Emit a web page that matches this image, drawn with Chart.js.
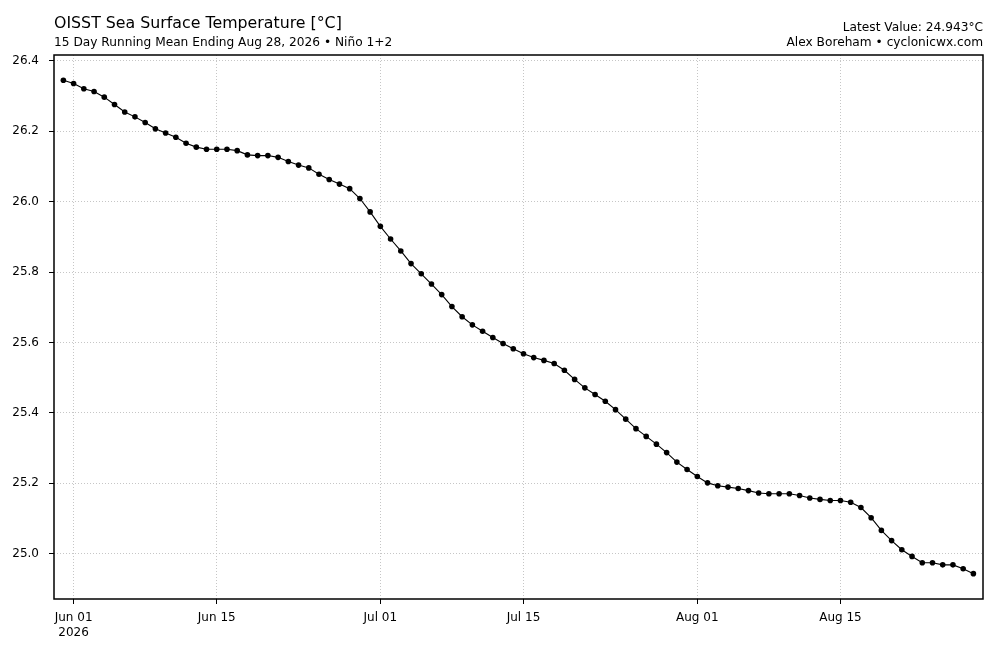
<!DOCTYPE html>
<html>
<head>
<meta charset="utf-8">
<script src="https://cdn.jsdelivr.net/npm/chart.js@4"></script>
<style>
  html, body { margin: 0; padding: 0; background: #fff; }
  #wrap { width: 1000px; height: 646px; position: relative; }
</style>
</head>
<body>
<div id="wrap"><canvas id="c"></canvas></div>
<script>
// day 0 = May 31, 2026
const startDate = '2026-05-31'
const sstValues = [
  26.345, 26.336, 26.321, 26.313, 26.297, 26.276, 26.255, 26.241, 26.225, 26.207,
  26.195, 26.183, 26.166, 26.155, 26.149, 26.149, 26.149, 26.145, 26.133, 26.131,
  26.131, 26.126, 26.114, 26.104, 26.096, 26.078, 26.063, 26.050, 26.037, 26.009,
  25.971,
  25.930, 25.894, 25.860, 25.824, 25.795, 25.766, 25.736, 25.702, 25.673, 25.650,
  25.632, 25.614, 25.597, 25.582, 25.568, 25.557, 25.549, 25.540, 25.521, 25.495,
  25.471, 25.452, 25.433, 25.409, 25.382, 25.355, 25.333, 25.311, 25.287, 25.260,
  25.239,
  25.219, 25.201, 25.193, 25.189, 25.185, 25.179, 25.172, 25.170, 25.170, 25.170,
  25.165, 25.158, 25.154, 25.151, 25.151, 25.146, 25.131, 25.102, 25.066, 25.037,
  25.011, 24.992, 24.974, 24.974, 24.968, 24.968, 24.957, 24.943
]
const xTickDays = [1, 15, 31, 45, 62, 76]
const xTickLabels = [['Jun 01', '2026'], 'Jun 15', 'Jul 01', 'Jul 15', 'Aug 01', 'Aug 15']
const yTicks = [25.0, 25.2, 25.4, 25.6, 25.8, 26.0, 26.2, 26.4]

const titleText = 'OISST Sea Surface Temperature [°C]'
const subtitleText = '15 Day Running Mean Ending Aug 28, 2026 • Niño 1+2'
const latestText = 'Latest Value: 24.943°C'
const creditText = 'Alex Boreham • cyclonicwx.com'

const FONT = 'DejaVu Sans'
Chart.defaults.font.family = FONT
Chart.defaults.color = '#000'

const points = sstValues.map((v, i) => ({ x: i, y: v }))

const frameAndText = {
  id: 'frameAndText',
  afterDraw(chart) {
    const { ctx, chartArea: a } = chart
    ctx.save()
    ctx.strokeStyle = '#000'
    ctx.lineWidth = 1.5
    ctx.strokeRect(a.left, a.top, a.right - a.left, a.bottom - a.top)
    ctx.fillStyle = '#000'
    ctx.textBaseline = 'alphabetic'
    ctx.textAlign = 'left'
    ctx.font = '15.8px "' + FONT + '"'
    ctx.fillText(titleText, 54, 28)
    ctx.font = '12.2px "' + FONT + '"'
    ctx.fillText(subtitleText, 54, 46)
    ctx.textAlign = 'right'
    ctx.fillText(latestText, 983, 30.5)
    ctx.fillText(creditText, 983, 46)
    ctx.restore()
  }
}

const gridOpts = {
  color: '#c0c0c0',
  lineWidth: 0.9,
  tickColor: '#000',
  tickLength: 5,
  tickWidth: 1,
  tickBorderDash: []
}

new Chart(document.getElementById('c'), {
  type: 'line',
  data: {
    datasets: [{
      data: points,
      borderColor: '#000',
      backgroundColor: '#000',
      borderWidth: 1.1,
      pointRadius: 2.8,
      pointHoverRadius: 2.8,
      pointBorderWidth: 0,
      tension: 0
    }]
  },
  options: {
    responsive: true,
    maintainAspectRatio: false,
    animation: false,
    layout: { padding: { top: 55, right: 17, left: 0, bottom: 0 } },
    plugins: { legend: { display: false }, tooltip: { enabled: false } },
    scales: {
      x: {
        type: 'linear',
        min: -0.917,
        max: 89.94,
        afterBuildTicks(scale) { scale.ticks = xTickDays.map(v => ({ value: v })) },
        afterFit(scale) { scale.height = 47 },
        ticks: {
          font: { size: 12 },
          padding: 7,
          maxRotation: 0,
          autoSkip: false,
          callback(v) {
            const i = xTickDays.indexOf(v)
            return i >= 0 ? xTickLabels[i] : ''
          }
        },
        grid: gridOpts,
        border: { display: false, dash: [1, 2] }
      },
      y: {
        min: 24.871,
        max: 26.4168,
        afterBuildTicks(scale) { scale.ticks = yTicks.map(v => ({ value: v })) },
        afterFit(scale) { scale.width = 54 },
        ticks: {
          font: { size: 12 },
          padding: 10,
          callback(v) { return v.toFixed(1) }
        },
        grid: gridOpts,
        border: { display: false, dash: [1, 2] }
      }
    }
  },
  plugins: [frameAndText]
})
</script>
</body>
</html>
